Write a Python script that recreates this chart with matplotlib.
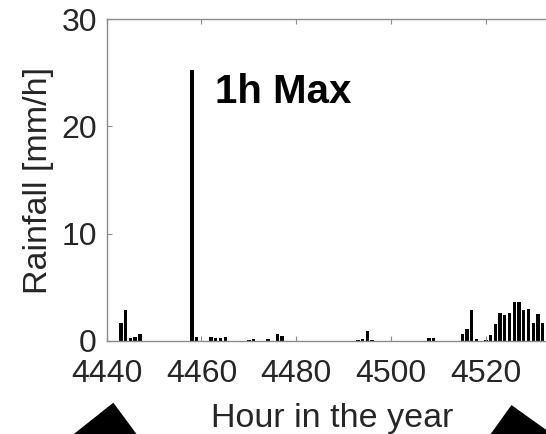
import numpy as np
import matplotlib
matplotlib.use("Agg")
import matplotlib.pyplot as plt
from matplotlib.patches import Polygon

plt.rcParams['font.family'] = ['Liberation Sans', 'DejaVu Sans']

# hourly rainfall
hours = [4443, 4444, 4445, 4446, 4447,
         4458, 4459, 4462, 4463, 4464, 4465,
         4470, 4471, 4474, 4476, 4477,
         4493, 4494, 4495, 4496, 4508, 4509,
         4515, 4516, 4517, 4518, 4520, 4521, 4522, 4523, 4524, 4525,
         4526, 4527, 4528, 4529, 4530, 4531, 4532]
rain = [1.68, 2.9, 0.25, 0.35, 0.62,
        25.25, 0.4, 0.4, 0.25, 0.25, 0.4,
        0.1, 0.15, 0.15, 0.65, 0.5,
        0.1, 0.15, 0.95, 0.1, 0.25, 0.25,
        0.65, 1.09, 2.89, 0.19, 0.12, 0.53, 1.62, 2.58, 2.42, 2.64,
        3.6, 3.6, 2.89, 2.98, 1.71, 2.48, 1.65]

xticks = [4440, 4460, 4480, 4500, 4520]
yticks = [0, 10, 20, 30]
arrow_hours = [4441.4, 4525.4]

fig = plt.figure(figsize=(5.46, 4.34), dpi=100)
ax = fig.add_axes([0.1954, 0.2143, 0.8247, 0.7419])

ax.bar(hours, rain, width=0.7, color='black')
ax.set_xlim(4440, 4535)
ax.set_ylim(0, 30)
ax.set_xticks(xticks)
ax.set_yticks(yticks)

for s in ax.spines.values():
    s.set_color('#8c8c8c')
    s.set_linewidth(1.0)
ax.tick_params(direction='in', length=3.5, width=0.8, color='#8c8c8c',
               top=True, right=True, labelsize=23, labelcolor='#262626')
ax.tick_params(axis='x', pad=13)
ax.tick_params(axis='y', pad=7)

ax.set_xlabel('Hour in the year', fontsize=24.5, color='#262626', labelpad=10)
ax.set_ylabel('Rainfall [mm/h]', fontsize=24.5, color='#262626', labelpad=5)

ax.text(4462.85, 22.15, '1h Max', fontsize=29, fontweight='bold',
        ha='left', va='baseline', color='black')

# black arrow heads under the axis (pixel offsets from the apex)
shapes = [[(-63, -50), (0, 0), (37, -50)],
          [(-36, -50), (0, 0), (70, -50)]]
apex_y = [-0.1916, -0.199]
fig.canvas.draw()
trans = ax.get_xaxis_transform()
for h, ay, shp in zip(arrow_hours, apex_y, shapes):
    px, py = trans.transform((h, ay))
    verts = [(px + dx, py + dy) for dx, dy in shp]
    tri = Polygon(verts, closed=True, facecolor='black', edgecolor='none',
                  transform=None, clip_on=False)
    fig.patches.append(tri)
    tri.set_figure(fig)

fig.savefig('out.png', dpi=100)
